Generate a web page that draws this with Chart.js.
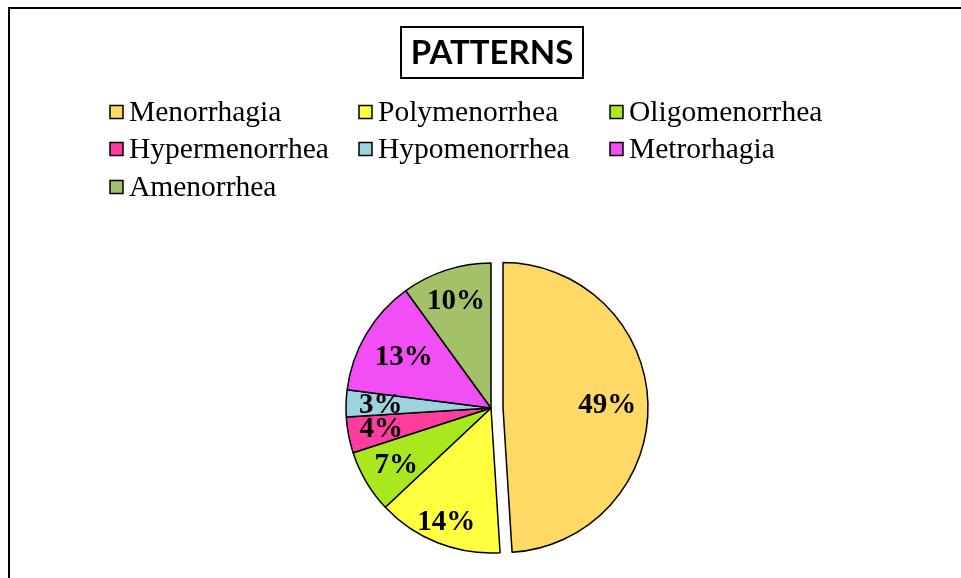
<!DOCTYPE html>
<html>
<head>
<meta charset="utf-8">
<script src="https://cdn.jsdelivr.net/npm/chart.js@4.4.0/dist/chart.umd.min.js"></script>
<style>
html,body{margin:0;padding:0;background:#fff;}
#wrap{position:relative;width:961px;height:578px;}
</style>
</head>
<body>
<div id="wrap"><canvas id="c" width="961" height="578"></canvas></div>
<script>
const titleText = "PATTERNS";
const categories = ["Menorrhagia","Polymenorrhea","Oligomenorrhea","Hypermenorrhea","Hypomenorrhea","Metrorhagia","Amenorrhea"];
const percentages = [49,14,7,4,3,13,10];
const sliceColors = ["#FFD966","#FFFF40","#A9E81E","#FF3D9E","#9DD3DF","#F24EF5","#A3C169"];
const explodePx = [12,0,0,0,0,0,0];

const framePlugin = {
  id: 'frame',
  afterDatasetUpdate(chart, args) {
    const meta = chart.getDatasetMeta(args.index);
    meta.data.forEach((arc, i) => {
      const d = explodePx[i] || 0;
      if (!d) return;
      const h = (arc.startAngle + arc.endAngle) / 2;
      arc.x += Math.cos(h) * d;
      arc.y += Math.sin(h) * d;
    });
  },
  beforeDraw(chart) {
    const ctx = chart.ctx;
    ctx.save();
    ctx.fillStyle = '#fff';
    ctx.fillRect(0,0,chart.width,chart.height);
    ctx.strokeStyle = '#000';
    ctx.lineWidth = 2;
    ctx.beginPath();
    ctx.moveTo(9, chart.height + 5);
    ctx.lineTo(9, 8);
    ctx.lineTo(chart.width + 5, 8);
    ctx.stroke();
    // title with box
    ctx.font = 'bold 33px Lato, "Open Sans", sans-serif';
    ctx.fillStyle = '#000';
    ctx.textAlign = 'center';
    ctx.textBaseline = 'middle';
    ctx.fillText(titleText, 492, 53);
    ctx.lineWidth = 2;
    ctx.strokeRect(401, 27, 182, 51);
    // legend grid
    ctx.font = '29.5px "Liberation Serif", "Times New Roman", serif';
    ctx.textAlign = 'left';
    const colX = [110, 359, 610];
    const rowY = [112, 149, 187];
    categories.forEach((name, i) => {
      const x = colX[i % 3], y = rowY[Math.floor(i / 3)];
      ctx.fillStyle = sliceColors[i];
      ctx.fillRect(x, y - 6.5, 13, 13);
      ctx.lineWidth = 1.5;
      ctx.strokeStyle = '#000';
      ctx.strokeRect(x, y - 6.5, 13, 13);
      ctx.fillStyle = '#000';
      ctx.fillText(name, x + 19, y + 1);
    });
    ctx.restore();
  },
  afterDatasetsDraw(chart) {
    const ctx = chart.ctx;
    const meta = chart.getDatasetMeta(0);
    ctx.save();
    ctx.font = 'bold 29px "Liberation Serif", "Times New Roman", serif';
    ctx.fillStyle = '#000';
    ctx.textAlign = 'center';
    ctx.textBaseline = 'middle';
    const factors = [0.72, 0.84, 0.76, 0.77, 0.76, 0.7, 0.78];
    meta.data.forEach((arc, i) => {
      const p = arc.getProps(['x','y','startAngle','endAngle','outerRadius'], true);
      const mid = (p.startAngle + p.endAngle) / 2;
      const r = p.outerRadius * factors[i];
      ctx.fillText(percentages[i] + '%', p.x + Math.cos(mid) * r, p.y + Math.sin(mid) * r + 1);
    });
    ctx.restore();
  }
};

new Chart(document.getElementById('c'), {
  type: 'pie',
  data: {
    labels: categories,
    datasets: [{
      data: percentages,
      backgroundColor: sliceColors,
      borderColor: '#000',
      borderWidth: 1.5,
      radius: 145
    }]
  },
  options: {
    responsive: false,
    animation: false,
    layout: { padding: { top: 260, bottom: 22, left: 21, right: 0 } },
    plugins: {
      legend: { display: false },
      title: { display: false },
      tooltip: { enabled: false }
    }
  },
  plugins: [framePlugin]
});
</script>
</body>
</html>
